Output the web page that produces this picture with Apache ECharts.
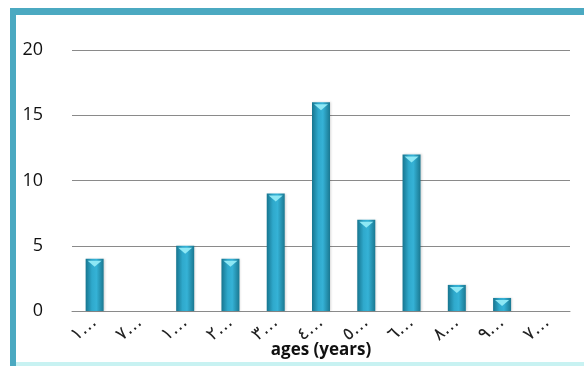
<!DOCTYPE html>
<html>
<head>
<meta charset="utf-8">
<script src="https://cdn.jsdelivr.net/npm/echarts@6/dist/echarts.min.js"></script>
<style>
  html, body { margin: 0; padding: 0; background: #ffffff; }
  #chart { width: 584px; height: 366px; }
</style>
</head>
<body>
<div id="chart"></div>
<script>
// Age groups (truncated labels) and number of people in each group
const categories = ['١…', '٧…', '١…', '٢…', '٣…', '٤…', '٥…', '٦…', '٨…', '٩…', '٧…'];
const counts = [4, 0, 5, 4, 9, 16, 7, 12, 2, 1, 0];
const yTicks = [0, 5, 10, 15, 20];
const axisTitle = 'ages (years)';

const chart = echarts.init(document.getElementById('chart'), null, { renderer: 'canvas' });

const barGradient = new echarts.graphic.LinearGradient(0, 0, 1, 0, [
  { offset: 0, color: '#17758f' },
  { offset: 0.35, color: '#2fa9cc' },
  { offset: 0.6, color: '#35b2d6' },
  { offset: 1, color: '#1a7891' }
]);

chart.setOption({
  animation: false,
  backgroundColor: '#ffffff',
  graphic: [
    { type: 'rect', shape: { x: 10, y: 8, width: 6, height: 360 }, style: { fill: '#4ba9c1' }, z: 10 },
    { type: 'rect', shape: { x: 10, y: 8, width: 580, height: 7 }, style: { fill: '#4ba9c1' }, z: 10 },
    { type: 'rect', shape: { x: 16, y: 362, width: 570, height: 4 }, style: { fill: '#c8f2f2' }, z: 10 }
  ],
  grid: { left: 72, right: 14, top: 50, bottom: 55, containLabel: false, outerBoundsMode: 'none' },
  xAxis: {
    type: 'category',
    data: categories,
    name: axisTitle,
    nameLocation: 'middle',
    nameGap: 31,
    nameMoveOverlap: false,
    nameTextStyle: { fontFamily: 'Open Sans', fontWeight: 'bold', fontSize: 17, color: '#111' },
    axisLine: { lineStyle: { color: '#8a8a8a', width: 1 } },
    axisTick: { show: false },
    axisLabel: {
      rotate: 40,
      interval: 0,
      margin: 9,
      fontFamily: 'DejaVu Sans',
      fontSize: 18,
      color: '#222'
    }
  },
  yAxis: {
    type: 'value',
    min: yTicks[0],
    max: yTicks[yTicks.length - 1],
    interval: 5,
    axisLine: { show: false },
    axisTick: { show: false },
    axisLabel: { margin: 29, fontFamily: 'Open Sans', fontSize: 18, color: '#111' },
    splitLine: { lineStyle: { color: '#8a8a8a', width: 1 } }
  },
  series: [
    {
      type: 'bar',
      data: counts,
      barWidth: 18,
      itemStyle: { color: barGradient, shadowColor: 'rgba(0,0,0,0.15)', shadowBlur: 2, shadowOffsetX: 1 },
      z: 2
    },
    {
      type: 'pictorialBar',
      data: counts.map(v => (v > 0 ? v : '-')),
      symbol: 'triangle',
      symbolRotate: 180,
      symbolSize: [14, 6],
      symbolPosition: 'end',
      symbolOffset: [0, 2],
      itemStyle: { color: '#8ee8f5' },
      z: 3
    }
  ]
});
</script>
</body>
</html>
